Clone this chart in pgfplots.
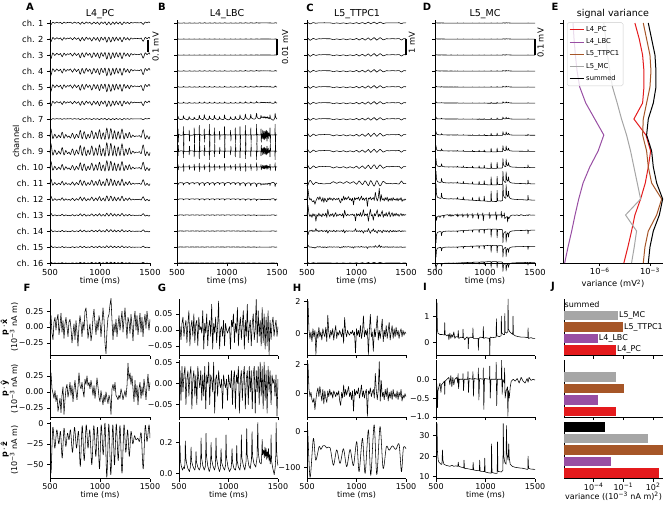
\documentclass[border=0pt]{standalone}
\usepackage{fontspec}
\setmainfont{DejaVu Sans}
\usepackage{pgfplots}
\usepackage{pgfplotstable}
\pgfplotsset{compat=1.18}
\definecolor{cPC}{HTML}{E41A1C}
\definecolor{cLBC}{HTML}{984EA3}
\definecolor{cTT}{HTML}{A65628}
\definecolor{cMC}{HTML}{A6A6A6}
\newcommand{\sps}[1]{\textsuperscript{#1}}
\newcommand{\ch}[6]{\addplot[tr,#6] table[x=t, y expr={#3+(#4)*(\thisrow{#2}-(#5))}] {#1};}
\newcommand{\ff}{\fontsize{8.3}{9.5}\selectfont}
\newcommand{\fb}{\fontsize{8}{8.5}\selectfont}
\newcommand{\ft}{\fontsize{9.5}{11}\selectfont}

\pgfplotsset{
 base/.style={scale only axis, anchor=north west,
   axis x line=bottom, axis y line=left,
   axis line style={-, line width=0.6pt, black},
   x axis line style={-}, y axis line style={-},
   tick align=outside, major tick length=3pt,
   tick style={black, line width=0.6pt},
   scaled ticks=false,
   font=\ff, tick label style={font=\ff}, label style={font=\ff},
   xtick={500,1000,1500}, xmin=500, xmax=1500, minor tick num=0},
 tp/.style={base, width=100pt, height=243pt, ymin=1, ymax=16.19, ytick={1,...,16}, yticklabels={}, xticklabels={500,1000,1500}, xlabel={time (ms)},
   xlabel style={at={(axis description cs:0.5,-0.075)}, anchor=center}, clip=false},
 bt/.style={base, width=99pt, height=57pt, xticklabels={}, font=\fb, tick label style={font=\fb}, label style={font=\fb},
   xticklabel style={inner sep=1.5pt}},
 bb/.style={bt, xticklabels={500,1000,1500}, xlabel={time (ms)},
   xlabel style={at={(axis description cs:0.5,-0.29)}, anchor=center}},
 jst/.style={bt, xmin=0, xmax=10, ymin=-0.5, ymax=4.5, ytick=\empty, xtick={3,6,9}, clip=false},
 tr/.style={black, line width=0.55pt, line join=round},
 jbar/.style={xbar, bar width=9.5pt, bar shift=0pt, draw=none, x filter/.expression={x+7}},
 fyl/.style={ylabel style={at={(axis description cs:-0.405,0.5)}, anchor=center, align=center, font=\fontsize{8}{7.2}\selectfont}},
}

\pgfplotstableread{
t v
500 -15
510 -60
528 -5
548 -30
568 -8
588 -25
605 -10
622 -42
640 -6
658 -28
675 -12
690 -20
705 -8
725 -35
745 -5
765 -30
785 -10
803 -52
822 -3
842 -45
862 -2
880 -30
898 -8
918 -50
938 -3
958 -40
975 -5
995 -55
1012 -2
1032 -38
1050 0
1068 -65
1088 -1
1108 -62
1128 -2
1145 -50
1163 -1
1182 -45
1200 -3
1220 -60
1240 -2
1258 -35
1276 -8
1293 -40
1310 -10
1328 -25
1345 -15
1360 -20
1378 -18
1395 -22
1412 -12
1432 -55
1452 -3
1470 -22
1490 -2
1500 -18
}\Fz

\pgfplotstableread{
t x y
500 0.05 0.20
510 0.18 0.30
520 -0.10 0.05
530 -0.20 -0.02
540 0.08 -0.10
550 0.15 0.02
560 -0.05 -0.15
570 0.12 -0.05
580 0.20 -0.30
590 -0.12 -0.20
600 0.02 -0.10
610 0.22 -0.32
620 -0.08 -0.05
630 0.10 0.08
640 -0.18 -0.35
650 0.05 -0.12
660 0.15 0.05
670 0.00 0.12
680 -0.15 -0.08
690 0.08 0.02
700 0.12 0.15
710 -0.02 -0.05
720 -0.25 0.10
730 -0.10 -0.15
740 0.05 0.05
750 -0.20 0.18
760 0.10 0.00
770 -0.08 -0.12
780 -0.30 0.08
790 0.02 0.30
800 0.18 0.10
810 0.05 0.05
820 -0.15 0.15
830 0.08 0.02
840 -0.05 -0.08
850 0.25 0.20
860 0.30 0.12
870 0.10 0.25
880 -0.18 0.10
890 -0.05 0.15
900 0.05 0.05
910 -0.22 0.18
920 -0.10 0.08
930 0.15 -0.05
940 0.28 0.10
950 0.05 -0.10
960 -0.12 0.05
970 0.10 0.22
980 -0.05 0.08
990 0.18 -0.08
1000 0.08 -0.15
1010 -0.15 0.02
1020 0.05 -0.10
1030 0.30 -0.20
1040 0.12 -0.05
1050 -0.25 -0.15
1060 -0.42 0.00
1070 -0.05 -0.10
1080 0.15 -0.18
1090 0.20 -0.05
1100 0.35 -0.12
1110 0.45 -0.35
1120 0.10 0.05
1130 -0.20 0.12
1140 0.05 0.02
1150 -0.08 0.15
1160 0.12 -0.05
1170 -0.15 -0.08
1180 0.02 -0.12
1190 0.18 -0.05
1200 -0.05 -0.10
1210 0.10 0.05
1220 0.25 -0.02
1230 -0.08 -0.12
1240 0.12 -0.05
1250 0.30 0.02
1260 0.05 -0.08
1270 -0.18 0.10
1280 0.15 0.45
1290 0.08 0.20
1300 -0.10 0.30
1310 0.20 0.12
1320 0.02 0.25
1330 -0.22 0.05
1340 0.10 -0.15
1350 0.25 0.18
1360 -0.05 -0.08
1370 0.18 0.10
1380 -0.12 -0.20
1390 0.05 0.05
1400 0.22 0.15
1410 -0.08 -0.10
1420 0.15 0.08
1430 -0.15 -0.05
1440 0.08 0.20
1450 0.20 0.05
1460 -0.02 -0.12
1470 0.25 0.10
1480 0.10 0.28
1490 -0.05 0.02
1500 0.12 0.15
}\Fxy

\pgfplotstableread{
t v
500 0.03
506 0.04
510 0.18
515 0.08
522 0.05
535 0.02
548 0.04
555 0.03
560 0.06
564 0.21
569 0.10
578 0.06
590 0.03
605 0.01
615 0.04
622 0.17
627 0.08
638 0.05
650 0.03
660 0.02
668 0.05
672 0.14
677 0.07
690 0.04
705 0.02
715 0.04
719 0.08
723 0.23
728 0.10
740 0.05
755 0.02
765 0.04
769 0.09
773 0.26
778 0.11
790 0.05
805 0.01
815 0.03
820 0.08
824 0.20
829 0.09
842 0.05
858 0.02
866 0.04
870 0.10
874 0.23
879 0.10
892 0.05
908 0.01
918 0.03
925 0.16
930 0.07
945 0.04
960 0.02
970 0.05
975 0.25
980 0.10
995 0.04
1010 0.01
1025 0.03
1030 0.06
1036 0.16
1041 0.07
1055 0.03
1070 0.02
1078 0.05
1083 0.18
1088 0.08
1100 0.04
1115 0.02
1125 0.07
1130 0.25
1135 0.10
1150 0.05
1165 0.02
1178 0.08
1184 0.29
1189 0.12
1205 0.05
1220 0.03
1232 0.09
1238 0.27
1243 0.11
1258 0.06
1275 0.04
1288 0.10
1296 0.33
1301 0.13
1315 0.07
1330 0.06
1335 0.10
1340 0.22
1345 0.12
1355 0.15
1362 0.10
1368 0.17
1374 0.11
1380 0.16
1386 0.09
1392 0.14
1398 0.10
1404 0.16
1410 0.08
1416 0.12
1422 0.06
1427 0.10
1430 0.25
1435 0.08
1448 0.03
1462 -0.01
1472 0.04
1478 0.12
1481 0.33
1486 0.15
1494 0.07
1500 0.05
}\Gz

\pgfplotstableread{
t v
500 0
508 0.02
510 0.5
513 -0.6
516 0.05
540 -0.03
562 0.02
564 0.7
567 -0.9
570 0.05
600 0.03
620 0.02
622 0.4
625 -0.5
628 0.0
650 -0.02
670 0.02
672 0.6
675 -0.7
678 0.05
700 0.02
721 0.03
723 0.8
726 -0.95
729 0.05
750 -0.02
771 0.02
773 0.5
776 -0.6
779 0.02
800 0.03
822 0.02
824 0.9
827 -1.0
830 0.05
850 -0.02
872 0.02
874 0.6
877 -0.7
880 0.03
900 0.0
923 0.02
925 0.3
928 -0.4
931 0.02
950 0.0
973 0.03
975 0.7
978 -0.8
981 0.03
1010 0.0
1034 0.02
1036 0.4
1039 -0.5
1042 0.0
1060 0.02
1081 0.02
1083 0.6
1086 -0.7
1089 0.03
1110 0.0
1128 0.02
1130 0.7
1133 -0.8
1136 0.02
1160 0.0
1182 0.02
1184 0.8
1187 -0.9
1190 0.03
1215 0.0
1236 0.02
1238 0.6
1241 -0.7
1244 0.02
1270 0.0
1294 0.03
1296 0.9
1299 -0.8
1302 0.05
1320 0.0
1338 0.02
1340 0.5
1343 -0.6
1346 0.1
1352 -0.3
1358 0.4
1364 -0.35
1370 0.3
1376 -0.4
1382 0.35
1388 -0.3
1394 0.4
1400 -0.5
1406 0.3
1412 -0.3
1418 0.2
1424 -0.1
1428 0.02
1430 0.6
1433 -0.7
1436 0.02
1460 0.0
1479 0.02
1481 0.9
1484 -0.8
1487 0.03
1500 0.0
}\Bsp

\pgfplotstableread{
t x y
500 0.00 0.00
510 0.01 0.03
520 -0.03 -0.04
530 0.02 0.04
540 0.04 -0.02
550 -0.02 0.02
560 0.01 0.04
570 0.03 -0.05
580 -0.04 0.01
590 0.02 0.03
600 0.06 -0.03
610 -0.05 0.02
620 0.01 0.04
630 0.03 -0.06
640 -0.02 0.01
650 0.05 0.03
660 -0.04 -0.03
670 0.02 0.02
680 0.03 -0.05
690 -0.05 0.04
700 0.04 0.01
710 0.00 -0.01
720 0.01 0.03
730 -0.01 -0.04
740 0.06 0.02
750 -0.06 -0.03
760 0.02 0.04
770 -0.01 -0.06
780 0.05 0.02
790 -0.05 0.00
800 0.01 0.05
810 0.03 -0.05
820 -0.02 0.02
830 0.08 0.01
840 -0.06 -0.02
850 0.02 0.05
860 -0.01 -0.07
870 0.04 0.01
880 -0.04 0.02
890 0.01 -0.03
900 0.09 0.03
910 -0.06 0.00
920 0.00 -0.01
930 0.01 0.01
940 -0.02 -0.06
950 0.03 0.02
960 -0.05 0.00
970 0.02 -0.01
980 0.00 0.01
990 -0.01 -0.04
1000 0.00 0.02
1010 0.01 0.00
1020 -0.06 -0.01
1030 0.03 0.03
1040 0.01 -0.05
1050 0.05 0.01
1060 -0.04 0.03
1070 0.02 -0.06
1080 -0.01 0.02
1090 0.07 0.00
1100 -0.05 0.04
1110 0.01 -0.07
1120 0.04 0.01
1130 -0.03 0.03
1140 0.02 -0.04
1150 0.06 0.02
1160 -0.06 0.04
1170 0.03 -0.06
1180 -0.02 0.01
1190 0.08 0.03
1200 -0.04 -0.05
1210 0.01 0.04
1220 0.03 -0.02
1230 -0.05 0.03
1240 0.02 -0.06
1250 0.05 0.02
1260 -0.03 0.04
1270 0.00 -0.07
1280 0.095 0.03
1290 -0.04 -0.02
1300 0.06 0.04
1310 -0.02 -0.05
1320 0.03 0.05
1330 -0.05 -0.03
1340 0.07 0.04
1350 -0.04 -0.06
1360 0.05 0.05
1370 -0.06 -0.04
1380 0.04 0.03
1390 -0.05 -0.07
1400 0.06 0.04
1410 -0.078 -0.02
1420 0.03 0.03
1430 -0.03 -0.05
1440 0.02 0.02
1450 0.04 0.00
1460 -0.02 0.01
1470 0.01 -0.03
1480 0.03 0.02
1490 -0.02 -0.077
1500 0.01 0.01
}\Gxy

\pgfplotstableread{
t v
500 -10
506 10
531 -128
564 -19
588 -80
622 -42
640 -50
660 -40
679 -39
700 -46
733 -45
767 -94
800 -51
834 -89
868 -48
901 -98
935 -50
969 -95
1002 -28
1026 -112
1060 -19
1087 -117
1120 5
1144 -122
1178 19
1205 -120
1238 14
1269 -103
1302 -42
1330 -52
1363 -40
1397 -50
1430 -35
1454 -112
1474 -45
1500 -48
}\Hz

\pgfplotstableread{
t x y
500 0.0 0.0
510 2.0 2.05
520 0.2 0.3
530 -0.3 -0.2
540 0.1 0.1
550 -0.5 -0.4
560 0.3 -0.6
570 -0.2 -0.3
580 0.2 -1.1
590 -1.3 -0.4
600 0.1 0.1
610 -0.3 0.4
620 0.4 -0.2
630 -0.2 0.5
640 0.1 0.0
650 -0.4 -0.5
660 0.3 0.3
670 0.0 -0.7
680 -0.2 0.2
690 0.4 -0.3
700 -0.5 -0.6
710 1.15 0.2
720 0.1 -0.2
730 -0.3 0.3
740 0.2 -0.1
750 -0.1 0.1
760 0.3 -0.3
770 -0.4 0.2
780 0.1 0.0
790 0.5 -0.2
800 -0.3 0.1
810 0.1 -0.1
820 -0.1 0.2
830 0.2 -0.5
840 0.0 -0.8
850 -0.2 0.1
860 0.3 -0.3
870 -0.6 0.6
880 1.0 -0.2
890 0.1 0.3
900 -0.2 -0.1
910 0.2 0.2
920 0.0 0.5
930 -0.1 -0.2
940 0.1 0.1
950 0.0 -0.4
960 0.2 0.2
970 -0.1 -1.2
980 0.1 0.3
990 -1.2 -0.1
1000 0.3 0.2
1010 -0.1 0.0
1020 0.2 0.4
1030 -0.2 -0.3
1040 0.5 0.1
1050 -0.3 0.6
1060 0.1 -0.2
1070 1.1 0.2
1080 -0.2 -0.3
1090 0.2 0.1
1100 -0.1 0.3
1110 0.3 -1.55
1120 -1.3 0.2
1130 0.2 0.0
1140 1.2 0.4
1150 -0.2 -0.2
1160 0.1 0.1
1170 -1.1 0.3
1180 0.3 -0.3
1190 -0.2 1.4
1200 0.4 0.2
1210 1.1 -0.4
1220 -0.4 0.3
1230 0.2 2.2
1240 -0.3 -0.5
1250 0.3 0.9
1260 0.9 -0.2
1270 -0.5 0.1
1280 0.2 -0.4
1290 -0.2 0.3
1300 0.5 -0.2
1310 -0.3 0.4
1320 0.2 -0.5
1330 0.7 0.1
1340 -0.4 -0.3
1350 0.1 0.2
1360 0.5 -0.4
1370 -0.3 0.3
1380 0.3 -0.2
1390 -0.2 0.0
1400 0.4 -0.3
1410 -0.1 0.2
1420 0.2 -0.4
1430 -0.3 0.1
1440 0.1 -0.2
1450 0.3 0.3
1460 -0.2 -0.5
1470 0.2 -0.1
1480 -0.1 -0.3
1490 0.1 0.0
1500 0.0 -0.2
}\Hxy

\pgfplotstableread{
t v
500 16
506 16.5
510 36
515 22
522 18
530 17
550 16
560 16
565 23
570 18
580 16
600 15.5
640 15
660 15.5
680 15
700 15.2
720 15
725 17
730 15
760 14.5
780 14.2
783 18
788 14
820 13.8
850 13.5
872 13.3
875 17
880 13.2
900 13
938 12.8
941 18
946 12.6
970 12.5
989 12.4
992 19
997 12.2
1030 11.8
1058 11.6
1061 26
1066 12
1090 11.6
1118 11.5
1121 27
1126 12.5
1160 12.2
1176 13
1179 36
1185 20
1195 17
1208 16
1211 35
1217 21
1228 18
1235 26
1240 19
1250 16
1270 15
1300 14.5
1340 14.2
1380 14
1420 13.5
1427 13.5
1430 20
1435 14
1460 13.6
1500 13.5
}\Iz

\pgfplotstableread{
t v
500 0.3
506 0.3
510 1.5
514 0.5
520 0.35
540 0.3
560 0.3
585 0.28
588 0.75
592 0.3
610 0.25
625 0.3
630 0.1
640 0.35
650 0.15
660 0.3
670 0.2
680 0.4
690 0.15
700 0.22
720 0.2
725 0.45
730 0.15
750 0.2
770 0.18
773 0.5
777 0.2
790 0.1
810 0.2
823 0.2
826 -0.25
830 0.15
850 0.2
870 0.18
873 0.55
877 0.15
900 0.15
925 0.15
928 -0.3
932 0.15
950 0.2
975 0.18
978 0.6
982 0.15
1000 0.18
1040 0.15
1043 -0.5
1047 0.2
1070 0.18
1107 0.2
1110 0.9
1114 0.25
1140 0.22
1157 0.25
1160 1.0
1164 0.35
1180 0.3
1192 0.3
1195 1.1
1199 0.4
1210 0.35
1225 0.4
1228 1.65
1232 0.5
1245 0.4
1260 0.35
1275 0.3
1278 1.0
1282 0.3
1300 0.25
1330 0.22
1360 0.2
1390 0.2
1427 0.18
1430 0.55
1434 0.15
1460 0.18
1480 0.15
1500 0.15
}\Ix

\pgfplotstableread{
t v
500 0
505 -0.05
510 -0.2
515 -0.75
520 -0.3
530 -0.2
540 -0.1
550 -0.35
555 -0.15
570 -0.1
585 -0.05
588 -0.4
592 -0.05
610 0
630 0.05
640 -0.15
650 0.1
660 -0.2
670 0.05
680 -0.15
690 0
710 0.05
720 -0.1
723 0.15
728 -0.25
735 0.0
770 0.0
773 0.15
778 -0.3
785 0
820 0
823 0.2
828 -0.35
835 0.02
870 0
873 0.2
878 -0.45
885 0.02
925 0
928 0.3
933 -0.55
940 0.02
975 0
978 0.3
983 -0.8
990 0.02
1040 0
1043 0.35
1048 -0.5
1055 0.0
1105 0
1108 0.45
1113 -0.7
1120 0.0
1160 0
1163 0.5
1168 -0.4
1175 0
1190 -0.1
1193 0.3
1198 -0.5
1210 -0.3
1222 -0.2
1226 -0.98
1232 -0.3
1240 -0.5
1250 -0.2
1260 -0.05
1280 0.0
1300 -0.05
1320 0.02
1340 -0.1
1360 0.05
1380 -0.05
1400 -0.1
1420 0.02
1430 -0.08
1440 0.05
1460 -0.03
1480 0.0
1500 -0.02
}\Iy

\pgfplotstableread{
ch pc lbc tt mc sum
1 -3.90 -7.60 -3.40 -5.76 -3.10
2 -3.64 -7.54 -3.20 -5.64 -2.90
3 -3.44 -7.46 -3.00 -5.54 -2.70
4 -3.36 -7.36 -2.94 -5.40 -2.64
5 -3.36 -7.20 -3.00 -5.24 -2.64
6 -3.44 -6.84 -3.20 -4.96 -2.80
7 -3.96 -6.30 -3.40 -4.70 -3.10
8 -3.24 -5.76 -3.44 -4.40 -3.20
9 -2.96 -6.10 -3.20 -4.16 -2.90
10 -3.10 -6.60 -3.10 -3.96 -2.80
11 -3.28 -7.00 -2.90 -3.76 -2.60
12 -3.56 -7.26 -2.30 -3.56 -2.24
13 -3.90 -7.48 -2.60 -4.46 -2.44
14 -4.10 -7.68 -3.10 -3.80 -2.80
15 -4.32 -7.90 -3.30 -3.94 -3.00
16 -4.56 -8.10 -3.40 -4.10 -3.10
}\Evar

\begin{document}
\begin{tikzpicture}
\useasboundingbox (0,0) rectangle (669pt,-505pt);

% ---------- A ----------
\begin{axis}[tp, at={(50pt,-20pt)},
  yticklabels={ch. 16,ch. 15,ch. 14,ch. 13,ch. 12,ch. 11,ch. 10,ch. 9,ch. 8,ch. 7,ch. 6,ch. 5,ch. 4,ch. 3,ch. 2,ch. 1},
  ylabel={channel}, ylabel style={at={(axis description cs:-0.34,0.5)}, anchor=center}]
\ch{\Fz}{v}{16}{0.003}{-25}{smooth}
\ch{\Fz}{v}{15}{0.005}{-25}{smooth}
\ch{\Fz}{v}{14}{0.0065}{-25}{smooth}
\ch{\Fz}{v}{13}{0.0075}{-25}{smooth}
\ch{\Fz}{v}{12}{0.0075}{-25}{smooth}
\ch{\Fz}{v}{11}{0.0055}{-25}{smooth}
\ch{\Fz}{v}{10}{0.0015}{-25}{smooth}
\ch{\Fz}{v}{9}{-0.011}{-25}{smooth}
\ch{\Fz}{v}{8}{-0.013}{-25}{smooth}
\ch{\Fz}{v}{7}{-0.010}{-25}{smooth}
\ch{\Fz}{v}{6}{-0.007}{-25}{smooth}
\ch{\Fz}{v}{5}{-0.005}{-25}{smooth}
\ch{\Fz}{v}{4}{-0.003}{-25}{smooth}
\ch{\Fz}{v}{3}{-0.0025}{-25}{smooth}
\ch{\Fz}{v}{2}{-0.002}{-25}{smooth}
\ch{\Fz}{v}{1}{-0.0015}{-25}{smooth}
\addplot[black, line width=1.2pt] coordinates {(1480,14.94) (1480,14.19)};
\node[rotate=90, font=\ff] at (axis cs:1555,14.5) {0.1 mV};
\end{axis}

% ---------- B ----------
\begin{axis}[tp, at={(177pt,-20pt)}]
\ch{\Gz}{v}{16}{0.1}{0.05}{}
\ch{\Gz}{v}{15}{0.02}{0.05}{}
\ch{\Gz}{v}{14}{0.02}{0.05}{}
\ch{\Gz}{v}{13}{0.15}{0.05}{}
\ch{\Gz}{v}{12}{0.25}{0.05}{}
\ch{\Gz}{v}{11}{0.35}{0.05}{}
\ch{\Gz}{v}{10}{1.3}{0.05}{}
\ch{\Bsp}{v}{9}{0.75}{0}{}
\ch{\Bsp}{v}{8}{-0.6}{0}{}
\ch{\Bsp}{v}{7}{0.3}{0}{}
\ch{\Gz}{v}{6}{-0.8}{0.05}{}
\ch{\Gz}{v}{5}{-0.35}{0.05}{}
\ch{\Gz}{v}{4}{-0.15}{0.05}{}
\ch{\Gz}{v}{3}{-0.1}{0.05}{}
\ch{\Gz}{v}{2}{-0.08}{0.05}{}
\ch{\Gz}{v}{1}{-0.05}{0.05}{}
\addplot[black, line width=1.2pt] coordinates {(1500,15) (1500,14)};
\node[rotate=90, font=\ff] at (axis cs:1580,14.5) {0.01 mV};
\end{axis}

% ---------- C ----------
\begin{axis}[tp, width=99pt, at={(307pt,-20pt)}]
\ch{\Hz}{v}{16}{0.0008}{-60}{smooth}
\ch{\Hz}{v}{15}{0.0012}{-60}{smooth}
\ch{\Hz}{v}{14}{0.0012}{-60}{smooth}
\ch{\Hz}{v}{13}{0.0012}{-60}{smooth}
\ch{\Hz}{v}{12}{0.0012}{-60}{smooth}
\ch{\Hz}{v}{11}{0.0012}{-60}{smooth}
\ch{\Hz}{v}{10}{0.0012}{-60}{smooth}
\ch{\Hz}{v}{9}{0.0015}{-60}{smooth}
\ch{\Hz}{v}{8}{0.0015}{-60}{smooth}
\ch{\Hz}{v}{7}{0.0018}{-60}{smooth}
\ch{\Hz}{v}{6}{-0.0025}{-60}{smooth}
\ch{\Hxy}{y}{5}{0.3}{0}{}
\ch{\Hxy}{x}{4}{0.3}{0}{}
\ch{\Hxy}{x}{3}{-0.12}{0}{}
\ch{\Hxy}{y}{2}{0.06}{0}{}
\ch{\Hz}{v}{1}{0.0005}{-60}{smooth}
\addplot[black, line width=1.2pt] coordinates {(1500,15) (1500,14)};
\node[rotate=90, font=\ff] at (axis cs:1560,14.8) {1 mV};
\end{axis}

% ---------- D ----------
\begin{axis}[tp, at={(435pt,-20pt)}]
\ch{\Iz}{v}{16}{0.001}{15}{}
\ch{\Iz}{v}{15}{0.001}{15}{}
\ch{\Iz}{v}{14}{0.0015}{15}{}
\ch{\Iz}{v}{13}{0.002}{15}{}
\ch{\Iz}{v}{12}{0.003}{15}{}
\ch{\Iz}{v}{11}{0.004}{15}{}
\ch{\Iz}{v}{10}{0.006}{15}{}
\ch{\Iz}{v}{9}{0.01}{15}{}
\ch{\Iz}{v}{8}{0.016}{15}{}
\ch{\Iz}{v}{7}{0.025}{15}{}
\ch{\Iz}{v}{6}{0.035}{15}{}
\ch{\Iz}{v}{5}{0.045}{15}{}
\ch{\Iy}{v}{4}{0.45}{0}{}
\ch{\Iz}{v}{3}{-0.035}{15}{}
\ch{\Iz}{v}{2}{-0.03}{15}{}
\ch{\Iz}{v}{1}{-0.025}{15}{}
\addplot[black, line width=1.2pt] coordinates {(1500,15) (1500,14)};
\node[rotate=90, font=\ff] at (axis cs:1555,14.75) {0.1 mV};
\end{axis}

% ---------- E ----------
\begin{axis}[tp, at={(563pt,-20pt)}, xmin=-8.2, xmax=-2.22, xtick={-6,-3},
  xticklabels={10\sps{−6},10\sps{−3}}, xlabel={variance (mV\sps{2})},
  xticklabel style={inner sep=1.5pt},
  xlabel style={at={(axis description cs:0.5,-0.086)}, anchor=center},
  legend style={at={(0.04,0.99)}, anchor=north west, font=\fontsize{6.8}{8}\selectfont,
    draw=black!20, rounded corners=1.5pt, fill=white, fill opacity=0.8, text opacity=1,
    inner sep=2pt, row sep=1.6pt},
  legend cell align=left,
  legend image code/.code={\draw[#1, line width=1pt] (0pt,0pt) -- (14pt,0pt);}]
\addplot[cPC, line width=1pt] table[x=pc, y expr={17-\thisrow{ch}}] {\Evar};
\addlegendentry{L4\_PC}
\addplot[cLBC, line width=1pt] table[x=lbc, y expr={17-\thisrow{ch}}] {\Evar};
\addlegendentry{L4\_LBC}
\addplot[cTT, line width=1pt] table[x=tt, y expr={17-\thisrow{ch}}] {\Evar};
\addlegendentry{L5\_TTPC1}
\addplot[cMC, line width=1pt] table[x=mc, y expr={17-\thisrow{ch}}] {\Evar};
\addlegendentry{L5\_MC}
\addplot[black, line width=1pt] table[x=sum, y expr={17-\thisrow{ch}}] {\Evar};
\addlegendentry{summed}
\end{axis}

% ---------- F ----------
\begin{axis}[bt, fyl, width=100pt, at={(50pt,-298.5pt)}, ymin=-0.45, ymax=0.45, ytick={-0.25,0,0.25}, yticklabels={−0.25,0.00,0.25},
  ylabel={\textbf{p}\,·\,\textbf{\^{x}}\\(10\sps{−3} nA m)}]
\addplot[tr] table[x=t,y=x] {\Fxy};
\end{axis}
\begin{axis}[bt, fyl, width=100pt, at={(50pt,-360pt)}, ymin=-0.39, ymax=0.50, ytick={-0.25,0,0.25}, yticklabels={−0.25,0.00,0.25},
  ylabel={\textbf{p}\,·\,\textbf{\^{y}}\\(10\sps{−3} nA m)}]
\addplot[tr] table[x=t,y=y] {\Fxy};
\end{axis}
\begin{axis}[bb, fyl, width=100pt, at={(50pt,-421.5pt)}, ymin=-66.5, ymax=2, ytick={-50,-25,0}, yticklabels={−50,−25,0},
  ylabel={\textbf{p}\,·\,\textbf{\^{z}}\\(10\sps{−3} nA m)}]
\addplot[tr, smooth] table[x=t,y=v] {\Fz};
\end{axis}

% ---------- G ----------
\begin{axis}[bt, at={(179pt,-298.5pt)}, ymin=-0.08, ymax=0.098, ytick={-0.05,0,0.05}, yticklabels={−0.05,0.00,0.05}]
\addplot[tr] table[x=t,y=x] {\Gxy};
\end{axis}
\begin{axis}[bt, at={(179pt,-360pt)}, ymin=-0.079, ymax=0.055, ytick={-0.05,0,0.05}, yticklabels={−0.05,0.00,0.05}]
\addplot[tr] table[x=t,y=y] {\Gxy};
\end{axis}
\begin{axis}[bb, at={(179pt,-421.5pt)}, ymin=-0.035, ymax=0.337, ytick={0,0.2}, yticklabels={0.0,0.2}]
\addplot[tr] table[x=t,y=v] {\Gz};
\end{axis}

% ---------- H ----------
\begin{axis}[bt, at={(307pt,-298.5pt)}, ymin=-1.36, ymax=2.18, ytick={0,2}, yticklabels={0,2}]
\addplot[tr] table[x=t,y=x] {\Hxy};
\end{axis}
\begin{axis}[bt, at={(307pt,-360pt)}, ymin=-1.6, ymax=2.32, ytick={0,2}, yticklabels={0,2}]
\addplot[tr] table[x=t,y=y] {\Hxy};
\end{axis}
\begin{axis}[bb, at={(307pt,-421.5pt)}, ymin=-131, ymax=28, ytick={-100,0}, yticklabels={−100,0}]
\addplot[tr, smooth] table[x=t,y=v] {\Hz};
\end{axis}

% ---------- I ----------
\begin{axis}[bt, at={(436pt,-298.5pt)}, ymin=-0.5, ymax=1.67, ytick={0,1}, yticklabels={0,1}]
\addplot[tr] table[x=t,y=v] {\Ix};
\end{axis}
\begin{axis}[bt, at={(436pt,-360pt)}, ymin=-1.0, ymax=0.51, ytick={-1,-0.5,0}, yticklabels={−1.0,−0.5,0.0}]
\addplot[tr] table[x=t,y=v] {\Iy};
\end{axis}
\begin{axis}[bb, at={(436pt,-421.5pt)}, ymin=9, ymax=37, ytick={10,20,30}, yticklabels={10,20,30}]
\addplot[tr] table[x=t,y=v] {\Iz};
\end{axis}

% ---------- J (x in log10 units) ----------
\begin{axis}[jst, at={(564pt,-298.5pt)}]
\addplot[jbar, fill=cMC] coordinates {(-1.51,3)};
\addplot[jbar, fill=cTT] coordinates {(-1.00,2)};
\addplot[jbar, fill=cLBC] coordinates {(-3.54,1)};
\addplot[jbar, fill=cPC] coordinates {(-1.71,0)};
\node[anchor=west, inner sep=0.5pt, font=\fb] at (axis cs:0,4) {summed};
\node[anchor=west, inner sep=0.5pt, font=\fb] at (axis cs:5.49,3) {L5\_MC};
\node[anchor=west, inner sep=0.5pt, font=\fb] at (axis cs:6.00,2) {L5\_TTPC1};
\node[anchor=west, inner sep=0.5pt, font=\fb] at (axis cs:3.46,1) {L4\_LBC};
\node[anchor=west, inner sep=0.5pt, font=\fb] at (axis cs:5.29,0) {L4\_PC};
\end{axis}
\begin{axis}[jst, at={(564pt,-360pt)}]
\addplot[jbar, fill=cMC] coordinates {(-1.71,3)};
\addplot[jbar, fill=cTT] coordinates {(-0.90,2)};
\addplot[jbar, fill=cLBC] coordinates {(-3.54,1)};
\addplot[jbar, fill=cPC] coordinates {(-1.71,0)};
\end{axis}
\begin{axis}[jst, at={(564pt,-421.5pt)}, xticklabels={10\sps{−4},10\sps{−1},10\sps{2}}, xlabel={variance ((10\sps{−3} nA m)\sps{2})},
  xlabel style={at={(axis description cs:0.5,-0.315)}, anchor=center}]
\addplot[jbar, fill=black] coordinates {(-2.83,4)};
\addplot[jbar, fill=cMC] coordinates {(1.44,3)};
\addplot[jbar, fill=cTT] coordinates {(3.00,2)};
\addplot[jbar, fill=cLBC] coordinates {(-2.22,1)};
\addplot[jbar, fill=cPC] coordinates {(2.56,0)};
\end{axis}

% ---------- titles and letters ----------
\node[font=\ft] at (100pt,-14pt) {L4\_PC};
\node[font=\ft] at (227pt,-14pt) {L4\_LBC};
\node[font=\ft] at (357pt,-14pt) {L5\_TTPC1};
\node[font=\ft] at (485pt,-14pt) {L5\_MC};
\node[font=\ft] at (613pt,-14pt) {signal variance};
\begin{scope}[every node/.style={font=\fontsize{10}{11}\selectfont\bfseries}]
\node at (30pt,-7pt) {A};
\node at (162pt,-7pt) {B};
\node at (310pt,-8pt) {C};
\node at (427pt,-7pt) {D};
\node at (555pt,-7pt) {E};
\node at (27pt,-288pt) {F};
\node at (162pt,-288pt) {G};
\node at (297pt,-288pt) {H};
\node at (425pt,-287pt) {I};
\node at (553pt,-287pt) {J};
\end{scope}
\end{tikzpicture}
\end{document}
